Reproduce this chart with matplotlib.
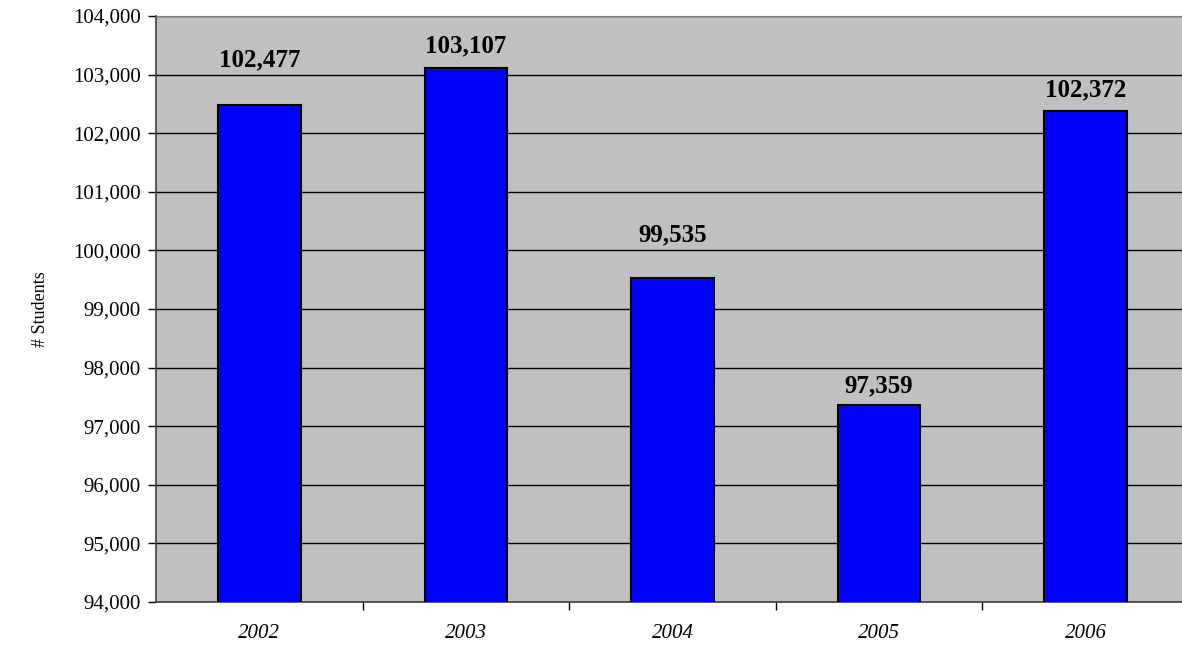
import matplotlib
matplotlib.use("Agg")
import matplotlib.pyplot as plt
import numpy as np

# enrollment by year
years = ["2002", "2003", "2004", "2005", "2006"]
students = [102477, 103107, 99535, 97359, 102372]
# vertical gap (points) between bar top and its value label, as in the reference
label_gap = [28, 11.5, 26, 9.5, 11]

plt.rcParams["font.family"] = ["Liberation Serif", "DejaVu Serif"]

fig = plt.figure(figsize=(11.82, 6.45), dpi=100)
# plot area runs a little past the right edge in the original
ax = fig.add_axes([156 / 1182, 43 / 645, 1033 / 1182, 586 / 645])
ax.set_facecolor("#C0C0C0")

x = np.arange(len(years))
ax.bar(x, students, width=0.4, color="#0000FF", edgecolor="black",
       linewidth=1.5, zorder=3)

for xi, v, gap in zip(x, students, label_gap):
    ax.annotate(f"{v:,}", (xi, v), xytext=(0, gap), textcoords="offset points",
                ha="center", va="baseline", fontsize=18, fontweight="bold",
                zorder=4)

ax.set_xlim(-0.5, len(years) - 0.5)
ax.set_ylim(94000, 104000)
ax.set_yticks(np.arange(94000, 104001, 1000))
ax.yaxis.set_major_formatter(matplotlib.ticker.StrMethodFormatter("{x:,.0f}"))
ax.yaxis.grid(True, color="black", linewidth=1, zorder=0)
ax.set_axisbelow(True)

# ticks between categories, labels centred on categories
ax.set_xticks(x[:-1] + 0.5)
ax.set_xticklabels([])
ax.set_xticks(x, minor=True)
ax.set_xticklabels(years, minor=True, fontsize=15, style="italic")
ax.tick_params(axis="x", which="major", direction="out", length=6, width=1)
ax.tick_params(axis="x", which="minor", length=0, pad=16)
ax.tick_params(axis="y", direction="out", length=6, width=1, labelsize=15, pad=5)

ax.set_ylabel("# Students", fontsize=13)
ax.yaxis.set_label_coords(-0.104, 0.5)

for side in ["left", "bottom"]:
    ax.spines[side].set_color("#404040")
    ax.spines[side].set_linewidth(1.2)
ax.spines["top"].set_color("#808080")
ax.spines["right"].set_color("#808080")

fig.savefig("out.png", dpi=100)
